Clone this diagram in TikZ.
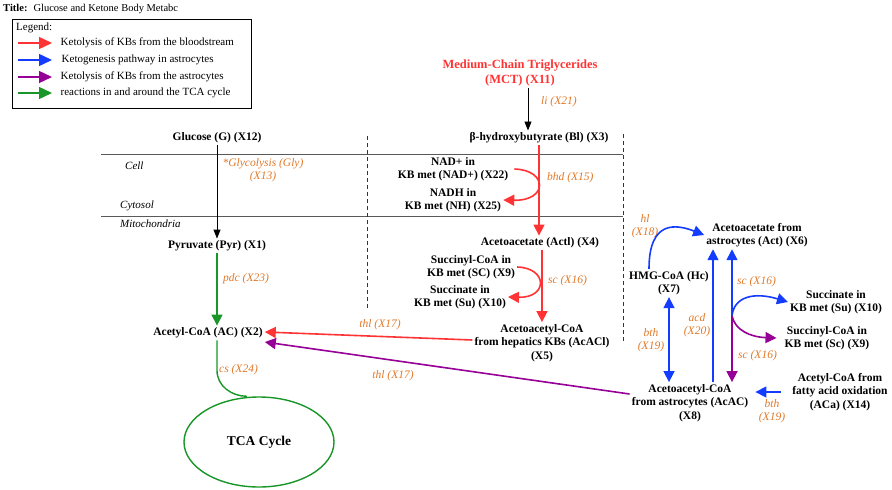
\documentclass[tikz,border=0pt]{standalone}
\usepackage{fontspec}
\setmainfont{Liberation Serif}
\usetikzlibrary{arrows.meta,shapes.geometric}

\definecolor{kbred}{RGB}{255,51,51}
\definecolor{kbblue}{RGB}{20,60,255}
\definecolor{kbpurple}{RGB}{150,0,150}
\definecolor{kbgreen}{RGB}{25,150,40}
\definecolor{enzorange}{RGB}{225,120,40}

\begin{document}
\begin{tikzpicture}[x=1pt,y=-1pt,
    met/.style={font=\fontsize{11.5}{13.5}\selectfont\bfseries, align=center, inner sep=2pt},
    enz/.style={font=\fontsize{11.5}{13}\selectfont\itshape, text=enzorange, align=center, inner sep=1pt},
    comp/.style={font=\fontsize{11}{13}\selectfont\itshape, inner sep=0pt, anchor=west},
    leg/.style={font=\fontsize{11}{13}\selectfont, inner sep=0pt, anchor=west},
    flow/.style={line width=1.6pt, -{Triangle[length=11pt,width=11pt]}},
    legflow/.style={line width=1.4pt, -{Triangle[length=13pt,width=12pt]}},
    blk/.style={line width=0.9pt, -{Triangle[length=9pt,width=7pt]}}]
    \useasboundingbox (0,0) rectangle (892,490);

    \node[anchor=west, inner sep=0pt, font=\fontsize{10.5}{12}\selectfont] (title) at (3,9) {\textbf{Title:}\hspace{6pt}Glucose and Ketone Body Metabc};
    \draw[line width=0.8pt] (12,19) rectangle (251,108);
    \node[leg] (legtitle) at (16,28) {Legend:};
    \coordinate (l1) at (18,43);
    \coordinate (l2) at (18,60);
    \coordinate (l3) at (18,77);
    \coordinate (l4) at (18,93);
    \draw[legflow, kbred] (l1) -- ++(34,0) node[leg, black, right=8pt] {Ketolysis of KBs from the bloodstream};
    \draw[legflow, kbblue] (l2) -- ++(34,0) node[leg, black, right=9pt] {Ketogenesis pathway in astrocytes};
    \draw[legflow, kbpurple] (l3) -- ++(34,0) node[leg, black, right=8pt] {Ketolysis of KBs from the astrocytes};
    \draw[legflow, kbgreen] (l4) -- ++(34,0) node[leg, black, right=8pt] {reactions in and around the TCA cycle};

    \draw[gray!70!black, line width=0.7pt] (101,154) -- (623,154);
    \draw[gray!70!black, line width=0.7pt] (101,216) -- (623,216);
    \draw[dash pattern=on 4pt off 3pt, line width=0.8pt, black!80] (367,136) -- (367,310);
    \draw[dash pattern=on 4pt off 3pt, line width=0.8pt, black!80] (623,134) -- (623,343);
    \node[comp] (cell) at (125,166) {Cell};
    \node[comp] (cyto) at (120,206) {Cytosol};
    \node[comp] (mito) at (120,224) {Mitochondria};

    \node[met] (G) at (217,138) {Glucose (G) (X12)};
    \node[met] (Pyr) at (217,246) {Pyruvate (Pyr) (X1)};
    \node[met] (AC) at (208,333) {Acetyl-CoA (AC) (X2)};
    \node[ellipse, draw=kbgreen, line width=1.4pt, minimum width=150pt, minimum height=90pt,
        font=\fontsize{13.5}{15}\selectfont\bfseries] (tca) at (259,442) {TCA Cycle};
    \node[met, text=kbred, font=\fontsize{12.5}{15}\selectfont\bfseries] (MCT) at (520,73) {Medium-Chain Triglycerides\\(MCT) (X11)};
    \node[met] (Bl) at (539,138) {β-hydroxybutyrate (Bl) (X3)};
    \node[met] (NAD) at (453,169) {NAD+ in\\KB met (NAD+) (X22)};
    \node[met] (NH) at (453,200) {NADH in\\KB met (NH) (X25)};
    \node[met] (Actl) at (540,243) {Acetoacetate (Actl) (X4)};
    \node[met] (SC) at (471,267) {Succinyl-CoA in\\KB met (SC) (X9)};
    \node[met] (Su) at (460,297) {Succinate in\\KB met (Su) (X10)};
    \node[met] (AcACl) at (542,343) {Acetoacetyl-CoA\\from hepatics KBs (AcACl)\\(X5)};
    \node[met] (Act) at (757,235) {Acetoacetate from\\astrocytes (Act) (X6)};
    \node[met] (Hc) at (669,283) {HMG-CoA (Hc)\\(X7)};
    \node[met] (SuA) at (836,302) {Succinate in\\KB met (Su) (X10)};
    \node[met] (ScA) at (827,338) {Succinyl-CoA in\\KB met (Sc) (X9)};
    \node[met] (AcAC) at (690,403) {Acetoacetyl-CoA\\from astrocytes (AcAC)\\(X8)};
    \node[met] (ACa) at (840,392) {Acetyl-CoA from\\fatty acid oxidation\\(ACa) (X14)};

    \node[enz] (gly) at (263,170) {*Glycolysis (Gly)\\(X13)};
    \node[enz, anchor=west] (pdc) at (222,279) {pdc (X23)};
    \node[enz, anchor=west] (cs) at (218,370) {cs (X24)};
    \node[enz, anchor=west] (li) at (540,102) {li (X21)};
    \node[enz, anchor=west] (bhd) at (546,178) {bhd (X15)};
    \node[enz, anchor=west] (sc1) at (547,281) {sc (X16)};
    \node[enz] (thl1) at (380,325) {thl (X17)};
    \node[enz] (thl2) at (393,376) {thl (X17)};
    \node[enz] (hl) at (645,226) {hl\\(X18)};
    \node[enz] (bth1) at (651,340) {bth\\(X19)};
    \node[enz] (acd) at (697,325) {acd\\(X20)};
    \node[enz, anchor=west] (sc2) at (736,282) {sc (X16)};
    \node[enz, anchor=west] (sc3) at (737,356) {sc (X16)};
    \node[enz] (bth2) at (772,411) {bth\\(X19)};

    \draw[blk] (G) -- (G |- Pyr.north);
    \draw[flow, kbgreen] (Pyr) -- (Pyr |- AC.north);
    \draw[kbgreen, line width=1.4pt] (AC.south -| Pyr) -- ++(0,30) to[out=-90, in=180] ([xshift=-12pt]tca.north);
    \draw[blk] (MCT.south -| 528,0) -- (Bl.north -| 528,0);

    \draw[flow, kbred] (Bl) -- (Bl |- Actl.north);
    \draw[flow, kbred] ([xshift=4pt]NAD.east) .. controls (548,170) and (548,201) .. (NH.east);
    \draw[flow, kbred] (Actl.south -| 542,0) -- (AcACl.north -| 542,0);
    \draw[flow, kbred] (SC.east) .. controls (548,268) and (548,298) .. (Su.east);
    \draw[flow, kbred] ([yshift=3pt]AcACl.west) -- ([yshift=1pt]AC.east);
    \draw[flow, kbpurple] ([yshift=9pt]AcAC.west) -- ([yshift=-9pt]AC.east);

    \coordinate (br) at (732,316);
    \draw[kbblue, line width=1.6pt, {Triangle[length=11pt,width=11pt]}-{Triangle[length=11pt,width=11pt]}] (Hc) -- (Hc |- AcAC.north);
    \draw[flow, kbblue] ([xshift=-20pt]Hc.north) .. controls (649,220) and (676,224) .. (Act.west);
    \draw[flow, kbblue] (AcAC.north -| 713,0) -- (Act.south -| 713,0);
    \draw[flow, kbblue] (br) -- (br |- Act.south);
    \draw[flow, kbblue] (br) .. controls (734,296) and (755,292) .. (SuA.west);
    \draw[flow, kbpurple] (br) -- (br |- AcAC.north);
    \draw[flow, kbpurple] (br) .. controls (735,330) and (750,337) .. ([xshift=-6pt]ScA.west);
    \draw[flow, kbblue, shorten <=9pt, shorten >=5pt] (ACa.west) -- (ACa.west -| AcAC.east);
\end{tikzpicture}
\end{document}
